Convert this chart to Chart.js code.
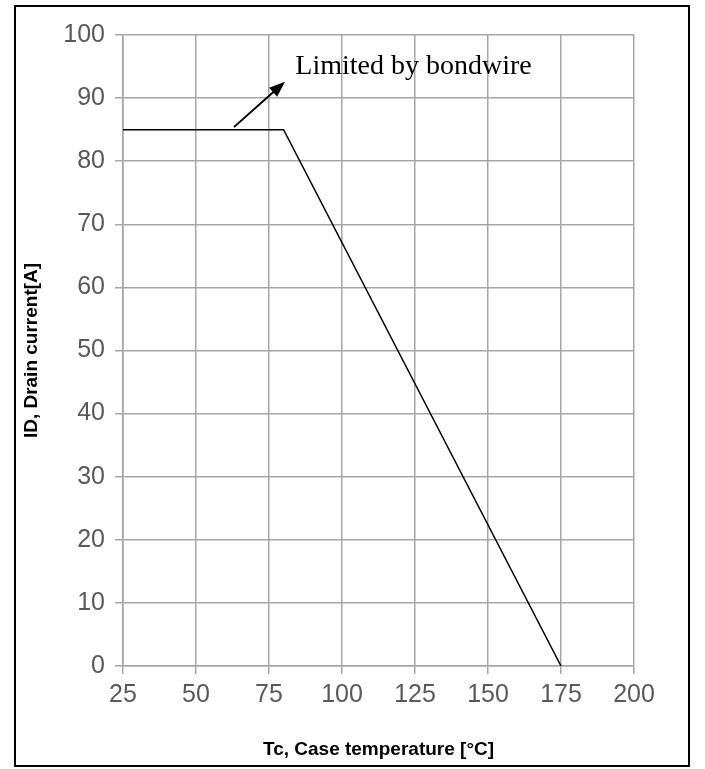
<!DOCTYPE html>
<html>
<head>
<meta charset="utf-8">
<script src="https://cdn.jsdelivr.net/npm/chart.js@4"></script>
<style>
  html, body { margin: 0; padding: 0; background: #fff; }
  #box { position: absolute; left: 14px; top: 5px; width: 672px; height: 758px; border: 2px solid #000; }
</style>
</head>
<body>
<div id="box"><canvas id="derating" width="672" height="758"></canvas></div>
<script>
// case temperature [°C] and drain current [A]
var temps = [25, 80, 175];
var current = [85, 85, 0];
var xTicks = [25, 50, 75, 100, 125, 150, 175, 200];
var yTicks = [0, 10, 20, 30, 40, 50, 60, 70, 80, 90, 100];

// note text + arrow, in data coordinates
var noteText = 'Limited by bondwire';
var notePos = [84, 95];
var arrowFrom = [63, 85.4];
var arrowTo = [80.5, 92.6];

var tickFont = { family: '"Liberation Sans Narrow", "Liberation Sans", sans-serif', size: 25 };

var notePlugin = {
    id: 'note',
    afterDatasetsDraw: function (chart) {
        var c = chart.ctx, xs = chart.scales.x, ys = chart.scales.y;
        var x1 = xs.getPixelForValue(arrowFrom[0]), y1 = ys.getPixelForValue(arrowFrom[1]);
        var x2 = xs.getPixelForValue(arrowTo[0]), y2 = ys.getPixelForValue(arrowTo[1]);
        var a = Math.atan2(y2 - y1, x2 - x1);
        c.save();
        c.strokeStyle = '#000';
        c.fillStyle = '#000';
        c.lineWidth = 2;
        c.beginPath();
        c.moveTo(x1, y1);
        c.lineTo(x2 - 10 * Math.cos(a), y2 - 10 * Math.sin(a));
        c.stroke();
        c.beginPath();
        c.moveTo(x2, y2);
        c.lineTo(x2 - 16 * Math.cos(a) + 6 * Math.sin(a), y2 - 16 * Math.sin(a) - 6 * Math.cos(a));
        c.lineTo(x2 - 16 * Math.cos(a) - 6 * Math.sin(a), y2 - 16 * Math.sin(a) + 6 * Math.cos(a));
        c.closePath();
        c.fill();
        c.font = '28px "Liberation Serif", serif';
        c.textBaseline = 'middle';
        c.fillText(noteText, xs.getPixelForValue(notePos[0]), ys.getPixelForValue(notePos[1]));
        c.restore();
    }
};

var ctx = document.getElementById('derating').getContext('2d');
var chart = new Chart(ctx, {
    type: 'line',
    data: {
        labels: temps,
        datasets: [{
            data: temps.map(function (t, i) { return { x: t, y: current[i] }; }),
            borderColor: '#000',
            borderWidth: 1.5,
            pointRadius: 0,
            tension: 0
        }]
    },
    options: {
        responsive: false,
        animation: false,
        layout: { padding: { left: 0, right: 54, top: 28, bottom: 0 } },
        plugins: { legend: { display: false }, tooltip: { enabled: false } },
        scales: {
            x: {
                type: 'linear',
                min: 25, max: 200,
                afterBuildTicks: function (s) { s.ticks = xTicks.map(function (v) { return { value: v }; }); },
                afterFit: function (s) { s.height = 99; },
                grid: { color: '#a6a6a6', lineWidth: 1.5, tickLength: 8 },
                border: { color: '#a6a6a6', width: 1.5 },
                ticks: { color: '#595959', font: tickFont, padding: 6, maxRotation: 0 },
                title: { display: true, text: 'Tc, Case temperature [\u00b0C]', color: '#000',
                         font: { family: 'Liberation Sans', size: 19, weight: 'bold' }, padding: { top: 14 } }
            },
            y: {
                min: 0, max: 100,
                afterBuildTicks: function (s) { s.ticks = yTicks.map(function (v) { return { value: v }; }); },
                afterFit: function (s) { s.width = 107; },
                grid: { color: '#a6a6a6', lineWidth: 1.5, tickLength: 8 },
                border: { color: '#a6a6a6', width: 1.5 },
                ticks: { color: '#595959', font: tickFont, padding: 10 },
                title: { display: true, text: 'ID, Drain current[A]', color: '#000',
                         font: { family: 'Liberation Sans', size: 19, weight: 'bold' }, padding: { bottom: 2 } }
            }
        }
    },
    plugins: [notePlugin]
});
</script>
</body>
</html>
